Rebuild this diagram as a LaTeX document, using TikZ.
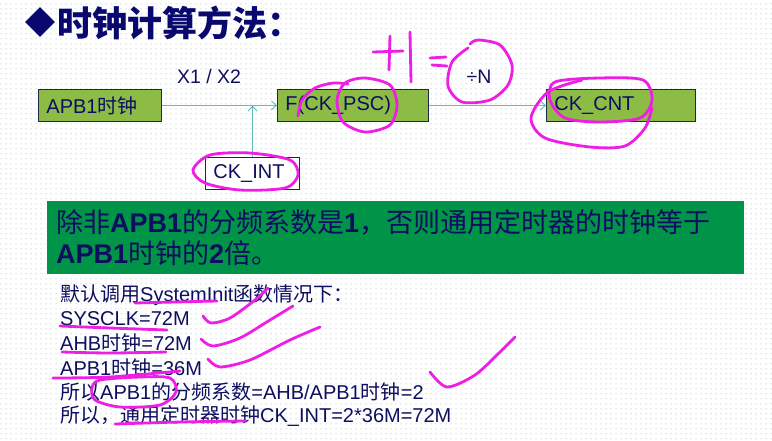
\documentclass[tikz,border=0pt]{standalone}
\usepackage{fontspec}
\setmainfont{Liberation Sans}
\newfontfamily\cjk{Noto Sans CJK SC}
\usetikzlibrary{arrows.meta,shapes.geometric,patterns.meta}
\newcommand\zh[1]{{\cjk #1}}
\definecolor{txtblue}{RGB}{14,14,96}
\definecolor{titleblue}{RGB}{8,8,110}
\definecolor{boxgreen}{RGB}{140,188,70}
\definecolor{boxline}{RGB}{30,40,70}
\definecolor{bannergreen}{RGB}{0,148,72}
\definecolor{arrowteal}{RGB}{100,185,185}
\definecolor{ink}{RGB}{238,30,228}
\definecolor{dotcol}{RGB}{140,175,170}
\tikzdeclarepattern{
  name=bgdots,
  type=uncolored,
  bounding box={(0pt,0pt) and (5pt,5pt)},
  tile size={(5pt,5pt)},
  code={\fill (2.5pt,2.5pt) circle (0.6pt);}
}
\begin{document}
\begin{tikzpicture}[x=1pt,y=-1pt,
  greenbox/.style={draw=boxline, line width=0.9pt, fill=boxgreen, anchor=north west,
    minimum height=32pt, inner xsep=8pt, inner ysep=0pt, align=left, text=txtblue,
    font=\fontsize{20}{22}\selectfont},
  whitebox/.style={greenbox, fill=white},
  arr/.style={draw=arrowteal, line width=0.9pt, -{Straight Barb[length=5pt,width=9pt]}},
  lbl/.style={inner sep=0pt, text=txtblue, font=\fontsize{19.5}{22}\selectfont},
  bantext/.style={inner sep=0pt, anchor=west, text=txtblue, font=\fontsize{27}{30}\selectfont},
  bottext/.style={inner sep=0pt, anchor=west, text=txtblue, font=\fontsize{20}{24}\selectfont},
  pen/.style={draw=ink, line width=2.8pt, line cap=round, line join=round}
]
\useasboundingbox (0,0) rectangle (772,440);
\fill[white] (0,0) rectangle (772,440);
\fill[pattern=bgdots, pattern color=dotcol] (0,0) rectangle (772,440);

% title
\node[diamond, fill=titleblue, inner sep=0pt, minimum width=30pt, minimum height=30pt] (dia) at (40,22) {};
\node[inner sep=0pt, anchor=west, text=titleblue, font=\fontsize{35}{38}\selectfont\bfseries] (title) at (57,23) {\zh{时钟计算方法：}};

% diagram
\node[greenbox, text width=107pt] (apb) at (38,89) {APB1\zh{时钟}};
\node[greenbox, text width=135pt] (psc) at (277,89) {F(CK\_PSC)};
\node[greenbox, text width=133pt] (cnt) at (546,89) {CK\_CNT};
\node[whitebox, text width=78pt] (int) at (205,157) {CK\_INT};
\node[lbl] (x12) at (209,77) {X1 / X2};
\node[lbl] (divn) at (479,77) {÷N};
\draw[arr] (apb.east) -- (psc.west);
\draw[arr] (psc.east) -- (cnt.west);
\draw[arr] (int.north) -- (int.north |- apb.east);

% banner
\node[fill=bannergreen, draw=white, line width=0.8pt, minimum width=698pt, minimum height=74pt, anchor=north west, inner sep=0pt] (banner) at (46,200) {};
\node[bantext] (b1) at (56,223) {\zh{除非}\textbf{APB1}\zh{的分频系数是}\textbf{1}\zh{，否则通用定时器的时钟等于}};
\node[bantext] (b2) at (56,253) {\textbf{APB1}\zh{时钟的}\textbf{2}\zh{倍。}};

% bottom text
\node[bottext] (l1) at (60,295) {\zh{默认调用}SystemInit\zh{函数情况下：}};
\node[bottext] (l2) at (60,319) {SYSCLK=72M};
\node[bottext] (l3) at (60,343) {AHB\zh{时钟}=72M};
\node[bottext] (l4) at (60,368) {APB1\zh{时钟}=36M};
\node[bottext] (l5) at (60,392) {\zh{所以}APB1\zh{的分频系数}=AHB/APB1\zh{时钟}=2};
\node[bottext] (l6) at (60,416) {\zh{所以，通用定时器时钟}CK\_INT=2*36M=72M};

% handwritten marks
\draw[pen] plot[smooth] coordinates {(298,116) (302,100) (315,88) (333,83) (348,84)};
\draw[pen] plot[smooth cycle] coordinates {(365,78) (390,85) (397,105) (390,125) (365,132) (343,122) (337,100) (345,83)};
\draw[pen] (373,52) -- (403,51);
\draw[pen] (390,36) -- (389,70);
\draw[pen] (410,32) -- (411,82);
\draw[pen] (430,58) -- (446,57);
\draw[pen] (432,65) -- (447,66);
\draw[pen] plot[smooth] coordinates {(470,44) (478,40) (500,45) (512,65) (508,85) (490,100) (462,102) (448,86) (452,62) (468,48)};
\draw[pen] plot[smooth cycle] coordinates {(555,82) (600,78) (643,80) (652,100) (640,118) (600,122) (565,118) (550,100)};
\draw[pen] plot[smooth] coordinates {(582,80) (548,92) (531,118) (545,138) (590,147) (625,146) (645,128) (652,108)};
\draw[pen] plot[smooth cycle] coordinates {(210,155) (250,153) (290,160) (298,175) (285,188) (240,190) (205,183) (193,170)};
\draw[pen] plot[smooth] coordinates {(135,303) (175,302) (217,301)};
\draw[pen] plot[smooth] coordinates {(203,316) (211,323) (230,318) (255,300) (268,288)};
\draw[pen] plot[smooth] coordinates {(60,326) (110,328) (167,330)};
\draw[pen] plot[smooth] coordinates {(201,339) (213,346) (240,338) (270,320) (293,306)};
\draw[pen] plot[smooth] coordinates {(62,352) (110,353) (166,352)};
\draw[pen] plot[smooth] coordinates {(208,359) (220,367) (250,360) (290,340) (320,327)};
\draw[pen] plot[smooth] coordinates {(53,378) (110,377) (180,371)};
\draw[pen] plot[smooth cycle] coordinates {(100,380) (140,377) (170,378) (176,392) (160,405) (120,407) (95,400) (92,388)};
\draw[pen] plot[smooth] coordinates {(115,424) (180,422) (245,421)};
\draw[pen] plot[smooth] coordinates {(430,372) (447,387) (475,375) (500,352) (515,337)};
\end{tikzpicture}
\end{document}
